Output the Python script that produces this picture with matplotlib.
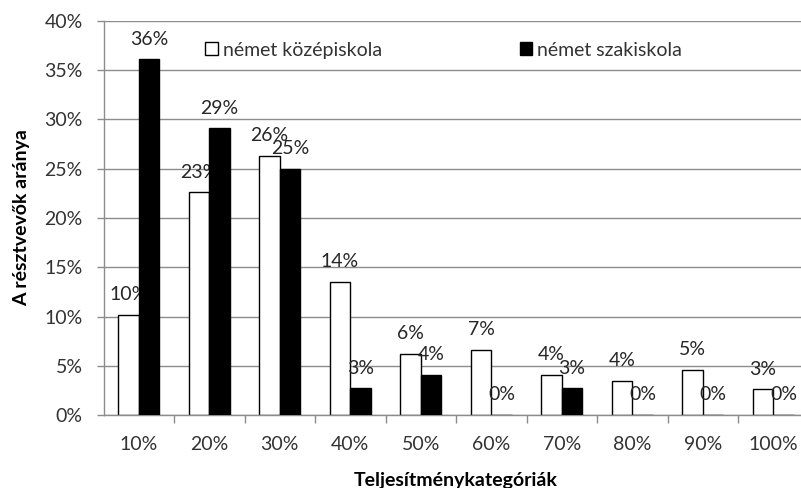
import matplotlib
matplotlib.use("Agg")
import matplotlib.pyplot as plt
import numpy as np
from matplotlib.patches import Patch

plt.rcParams['font.family'] = ['Lato', 'DejaVu Sans']

categories = ["10%", "20%", "30%", "40%", "50%", "60%", "70%", "80%", "90%", "100%"]
kozep = [10.2, 22.6, 26.3, 13.5, 6.2, 6.6, 4.1, 3.5, 4.6, 2.6]
szak = [36.1, 29.1, 25.0, 2.7, 4.1, 0.0, 2.7, 0.0, 0.0, 0.0]
series_names = ["német középiskola", "német szakiskola"]
yticks = [0, 5, 10, 15, 20, 25, 30, 35, 40]

W, H = 801, 488
fig = plt.figure(figsize=(W / 100, H / 100), dpi=100)
left, right, top, bottom = 103.5, 808.5, 21, 415
ax = fig.add_axes([left / W, (H - bottom) / H, (right - left) / W, (bottom - top) / H])

grid_c = '#8c8c8c'
text_c = '#333333'
fs = 14
x = np.arange(len(categories))
bw = 0.29

ax.bar(x - bw / 2, kozep, bw, color='white', edgecolor='black', linewidth=1.0, zorder=2)
for xi, v in zip(x, kozep):
    ax.annotate(f"{v:.0f}%", (xi - bw / 2, v), xytext=(0, 10.5), textcoords='offset points',
                ha='center', va='baseline', fontsize=fs, color='#262626', zorder=3)
ax.bar(x + bw / 2, szak, bw, color='black', edgecolor='black', linewidth=1.0, zorder=4)
for xi, v in zip(x, szak):
    ax.annotate(f"{v:.0f}%", (xi + bw / 2, v), xytext=(0, 10.5), textcoords='offset points',
                ha='center', va='baseline', fontsize=fs, color='#262626', zorder=5)

ax.set_xlim(-0.5, len(categories) - 0.5)
ax.set_ylim(0, 40)
ax.set_yticks(yticks)
ax.set_yticklabels([f"{t}%" for t in yticks])
ax.yaxis.grid(True, color=grid_c, linewidth=1.0, zorder=0)
ax.set_axisbelow(True)

ax.set_xticks(np.arange(0.5, len(categories) - 1, 1.0))
ax.set_xticklabels([])
ax.set_xticks(x, minor=True)
ax.set_xticklabels(categories, minor=True)
ax.tick_params(axis='x', which='major', length=6, color=grid_c, width=1)
ax.tick_params(axis='x', which='minor', length=0, pad=15, labelsize=fs, labelcolor=text_c)
ax.tick_params(axis='y', length=5, color=grid_c, width=1, pad=10, labelsize=fs, labelcolor=text_c)

for s in ['top', 'right']:
    ax.spines[s].set_visible(False)
for s in ['left', 'bottom']:
    ax.spines[s].set_color(grid_c)
    ax.spines[s].set_linewidth(1.0)

ax.set_ylabel("A résztvevők aránya", fontsize=fs, fontweight='bold', color='black', labelpad=10)
ax.set_xlabel("Teljesítménykategóriák", fontsize=fs, fontweight='bold', color='black', labelpad=14)

handles = [Patch(facecolor='white', edgecolor='black', linewidth=1.0),
           Patch(facecolor='black', edgecolor='black', linewidth=1.0)]
leg = ax.legend(handles, series_names, ncol=2, loc='center left', bbox_to_anchor=(0.144, 0.926),
                frameon=False, fontsize=fs, handlelength=0.65, handleheight=0.65,
                handletextpad=0.25, columnspacing=7.1, borderpad=0, borderaxespad=0)
for t in leg.get_texts():
    t.set_color(text_c)

fig.savefig("out.png", dpi=100)
